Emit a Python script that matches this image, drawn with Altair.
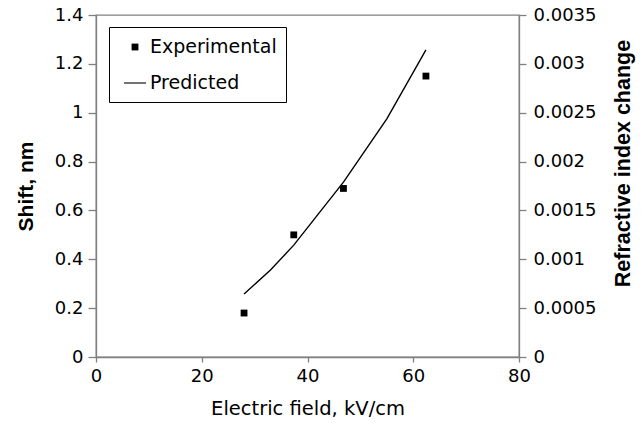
import altair as alt
import pandas as pd

# Experimental data
exp_field = [28.0, 37.4, 46.8, 62.4]
exp_shift = [0.18, 0.50, 0.69, 1.15]

# Predicted curve
pred_field = [28.0, 33.0, 37.4, 46.8, 55.0, 62.4]
pred_shift = [0.258, 0.356, 0.458, 0.716, 0.975, 1.257]

series_names = ["Experimental", "Predicted"]
x_ticks = [0, 20, 40, 60, 80]
y_ticks = [0, 0.2, 0.4, 0.6, 0.8, 1.0, 1.2, 1.4]
r_ticks = [0, 0.0005, 0.001, 0.0015, 0.002, 0.0025, 0.003, 0.0035]

exp_df = pd.DataFrame({"field": exp_field, "shift": exp_shift, "series": "Experimental"})
pred_df = pd.DataFrame({"field": pred_field, "shift": pred_shift, "series": "Predicted"})

FONT = "DejaVu Sans"
TFONT = "Liberation Sans"
W, H = 423, 342

SQUARE = "M-0.31,-0.31L0.31,-0.31L0.31,0.31L-0.31,0.31Z"
DASH = "M-1,-0.05L1,-0.05L1,0.05L-1,0.05Z"

x_enc = alt.X(
    "field:Q",
    scale=alt.Scale(domain=[0, 80], nice=False),
    axis=alt.Axis(
        values=x_ticks, title="Electric field, kV/cm", tickSize=5, labelPadding=5,
        titleX=W / 2, titleY=51, titleBaseline="middle", titleFontWeight="normal",
        titleFont=FONT, titleFontSize=19.5,
    ),
)
y_scale = alt.Scale(domain=[0, 1.4], nice=False)
y_axis = alt.Axis(
    values=y_ticks, format="~g", title="Shift, nm", tickSize=8, labelPadding=5,
    titleX=-70, titleY=H / 2, titleBaseline="middle", titleFontWeight="bold",
    titleFont=TFONT, titleFontSize=21,
)

points = alt.Chart(exp_df).mark_point(
    filled=True, color="black", strokeWidth=0, opacity=1, size=484
).encode(
    x=x_enc,
    y=alt.Y("shift:Q", scale=y_scale, axis=y_axis),
    shape=alt.Shape(
        "series:N",
        scale=alt.Scale(domain=series_names, range=[SQUARE, DASH]),
        legend=alt.Legend(
            title=None, orient="none", legendX=13, legendY=12,
            strokeColor="black", fillColor="white", padding=9,
            labelFontSize=19, labelFont=FONT, labelColor="black",
            symbolFillColor="black", symbolStrokeWidth=0, symbolSize=484,
            symbolOpacity=1, rowPadding=15, labelOffset=4, symbolOffset=6,
        ),
    ),
)

line = alt.Chart(pred_df).mark_line(color="black", strokeWidth=1.4).encode(
    x=alt.X("field:Q", scale=alt.Scale(domain=[0, 80], nice=False)),
    y=alt.Y("shift:Q", scale=y_scale),
)

right = alt.Chart(pred_df).transform_calculate(
    ri="datum.shift * 0.0025"
).mark_line(opacity=0).encode(
    x=alt.X("field:Q", scale=alt.Scale(domain=[0, 80], nice=False)),
    y=alt.Y(
        "ri:Q",
        scale=alt.Scale(domain=[0, 0.0035], nice=False),
        axis=alt.Axis(
            orient="right", values=r_ticks, format="~g", title="Refractive index change",
            tickSize=7, labelPadding=7, titleX=104, titleY=148, titleBaseline="middle",
            titleAngle=270, titleFontWeight="bold", titleFont=TFONT, titleFontSize=21.5,
        ),
    ),
)

left_layer = alt.layer(line, points)
chart = alt.layer(left_layer, right).resolve_scale(y="independent").properties(
    width=W, height=H,
    autosize=alt.AutoSizeParams(type="none"),
    padding={"left": 96, "top": 15, "right": 125, "bottom": 67},
    background="white",
).configure_view(
    stroke="#808080", strokeWidth=1.3
).configure_axis(
    grid=False, domainColor="#808080", domainWidth=1.3, tickColor="#808080", tickWidth=1.3,
    labelFont=FONT, labelFontSize=18, labelColor="black", labelFlush=False, labelOverlap=False,
    titleColor="black",
)

chart.save("out.html", embed_options={"renderer": "svg", "actions": False})
